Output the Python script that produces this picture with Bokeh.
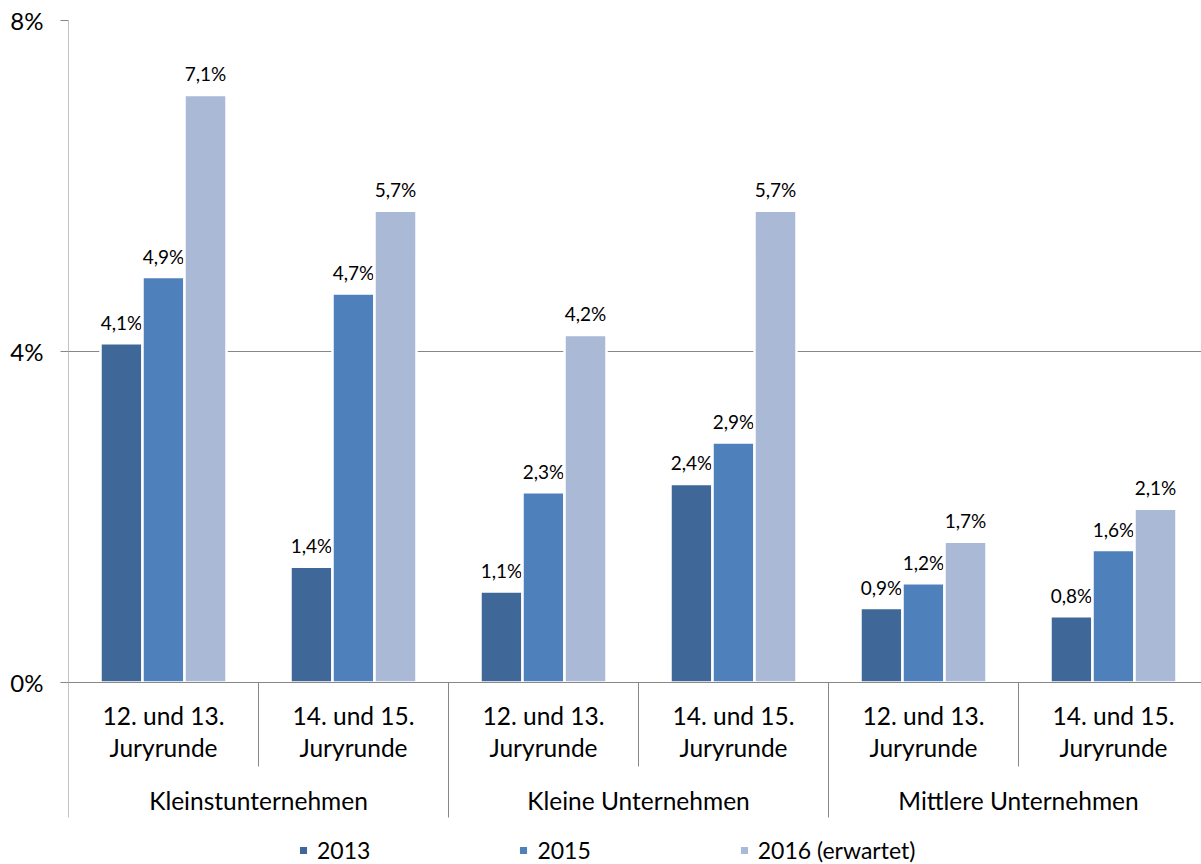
from bokeh.plotting import figure
from bokeh.models import Range1d, FixedTicker, ColumnDataSource, Legend, LegendItem
from bokeh.core.properties import value
from bokeh.embed import file_html
from bokeh.resources import INLINE

# ---- data ----
groups = ["Kleinstunternehmen", "Kleine Unternehmen", "Mittlere Unternehmen"]
rounds = ["12. und 13.\nJuryrunde", "14. und 15.\nJuryrunde"]
series = ["2013", "2015", "2016 (erwartet)"]
v2013 = [4.1, 1.4, 1.1, 2.4, 0.9, 0.8]
v2015 = [4.9, 4.7, 2.3, 2.9, 1.2, 1.6]
v2016 = [7.1, 5.7, 4.2, 5.7, 1.7, 2.1]
y_ticks = [0, 4, 8]
colors = ["#3F6797", "#4E80BC", "#AAB9D6"]

FONT = "Lato"
GRAY = "#878787"

W, H = 1201, 864
LEFT, TOP, BOTTOM = 68, 20, 0
CAT_PX = 190.0
frame_w = W - LEFT
frame_h = H - TOP - BOTTOM
px_per_pct = 82.75
y_top = 8
y_bottom = y_top - frame_h / px_per_pct
x_end = frame_w / CAT_PX
axis_depth = -135 / px_per_pct   # bottom of the category axis block
sub_depth = -84 / px_per_pct

p = figure(width=W, height=H, output_backend="svg", toolbar_location=None,
           x_range=Range1d(0, x_end), y_range=Range1d(y_bottom, y_top),
           min_border_left=LEFT, min_border_top=TOP, min_border_bottom=BOTTOM,
           min_border_right=0, x_axis_type=None)
p.outline_line_color = None
p.background_fill_color = "white"
p.border_fill_color = "white"

# y axis
yax = p.yaxis[0]
yax.ticker = FixedTicker(ticks=y_ticks)
yax.major_label_overrides = {t: f"{t}%" for t in y_ticks}
yax.axis_line_color = None
yax.major_tick_line_color = GRAY
yax.major_tick_out = 8
yax.major_tick_in = 0
yax.minor_tick_line_color = None
yax.major_label_text_font = FONT
yax.major_label_text_font_size = "24px"
yax.major_label_text_color = "black"
yax.major_label_standoff = 17

p.xgrid.visible = False
p.ygrid.ticker = FixedTicker(ticks=y_ticks)
p.ygrid.grid_line_color = GRAY
p.ygrid.grid_line_width = 1

# value axis line (down through the category block)
p.segment(x0=[0], y0=[y_top], x1=[0], y1=[axis_depth], line_color=GRAY, line_width=1)

# bars
n_cat = len(v2013)
centers = [i + 0.5 for i in range(n_cat)]
pitch = 42 / CAT_PX
renderers = []
for j, (name, vals, col) in enumerate(zip(series, [v2013, v2015, v2016], colors)):
    xs = [c + (j - 1) * pitch for c in centers]
    src = ColumnDataSource(dict(x=xs, top=vals,
                                lab=[f"{v:.1f}".replace(".", ",") + "%" for v in vals]))
    r = p.vbar(x="x", top="top", bottom=0, width=pitch, source=src,
               fill_color=col, line_color="white", line_width=2.5)
    renderers.append(r)
    p.text(x="x", y="top", text="lab", source=src, text_align="center",
           text_baseline="alphabetic", y_offset=-21, text_font=value(FONT),
           text_font_size="19px", text_color="black")

# category axis line (over the bars' white edge)
p.segment(x0=[0], y0=[0], x1=[x_end], y1=[0], line_color=GRAY, line_width=1)

# category separators
sub_sep_x = [i for i in range(1, n_cat) if i % len(rounds) != 0]
grp_sep_x = [i for i in range(1, n_cat) if i % len(rounds) == 0]
p.segment(x0=sub_sep_x, y0=[0] * len(sub_sep_x), x1=sub_sep_x,
          y1=[sub_depth] * len(sub_sep_x), line_color=GRAY, line_width=1)
p.segment(x0=grp_sep_x, y0=[0] * len(grp_sep_x), x1=grp_sep_x,
          y1=[axis_depth] * len(grp_sep_x), line_color=GRAY, line_width=1)

# category labels
sub_labels = [rounds[i % len(rounds)] for i in range(n_cat)]
line1 = [s.split("\n")[0] for s in sub_labels]
line2 = [s.split("\n")[1] for s in sub_labels]
p.text(x=centers, y=[0] * n_cat, text=line1, text_align="center",
       text_baseline="alphabetic", y_offset=33, text_font=value(FONT),
       text_font_size="24.5px", text_color="black")
p.text(x=centers, y=[0] * n_cat, text=line2, text_align="center",
       text_baseline="alphabetic", y_offset=65, text_font=value(FONT),
       text_font_size="24.5px", text_color="black")
gcenters = [g * len(rounds) + len(rounds) / 2 for g in range(len(groups))]
p.text(x=gcenters, y=[0] * len(groups), text=groups, text_align="center",
       text_baseline="alphabetic", y_offset=118, text_font=value(FONT),
       text_font_size="24.5px", text_color="black")

legend = Legend(items=[LegendItem(label=s, renderers=[r]) for s, r in zip(series, renderers)],
                orientation="horizontal", location=(229, 0),
                glyph_width=12, glyph_height=12, label_standoff=8, spacing=147,
                padding=0, margin=0, border_line_color=None, background_fill_alpha=0,
                label_text_font=FONT, label_text_font_size="23px", label_text_color="black")
p.add_layout(legend, "center")

open("out.html", "w").write(file_html(p, INLINE))
